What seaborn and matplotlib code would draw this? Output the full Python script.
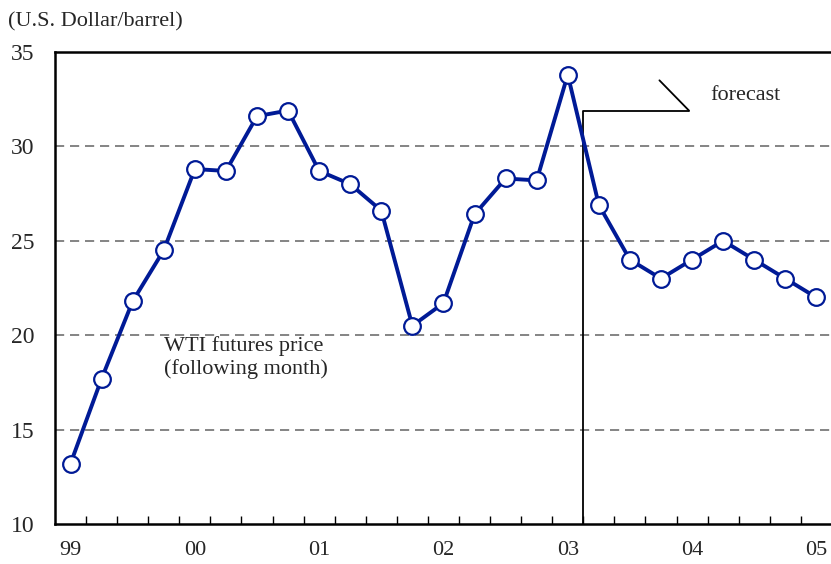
import numpy as np
import pandas as pd
import matplotlib
matplotlib.use("Agg")
import matplotlib.pyplot as plt
import seaborn as sns

sns.set_theme(style="white")
plt.rcParams["font.family"] = ["Liberation Serif", "DejaVu Serif"]

# quarterly WTI price, 99Q1 .. 05Q1
quarters = np.arange(25)
prices = [13.2, 17.7, 21.8, 24.5, 28.8, 28.7, 31.6, 31.9,
          28.7, 28.0, 26.6, 20.5, 21.7, 26.4, 28.3, 28.2,
          33.8, 26.9, 24.0, 23.0, 24.0, 25.0, 24.0, 23.0, 22.0]
year_labels = ["99", "00", "01", "02", "03", "04", "05"]
y_ticks = [10, 15, 20, 25, 30, 35]

df = pd.DataFrame({"q": quarters, "price": prices})

fig = plt.figure(figsize=(8.31, 5.64), dpi=100)
ax = fig.add_axes([55 / 831, 40 / 564, 780 / 831, 472 / 564])

navy = "#001a96"
sns.lineplot(data=df, x="q", y="price", ax=ax, color=navy, linewidth=2.8,
             marker="o", markersize=12, markerfacecolor="white",
             markeredgecolor=navy, markeredgewidth=1.6, zorder=3)

ax.set_xlim(-0.5, 24.6)
ax.set_ylim(10, 35)

# dashed gridlines
for yv in y_ticks[1:-1]:
    ax.axhline(yv, color="#707070", linestyle=(0, (5.5, 3.5)), linewidth=1.2, zorder=1)

ax.set_yticks(y_ticks)
ax.set_yticklabels([str(v) for v in y_ticks], fontsize=17)
ax.set_xticks(quarters[::4])
ax.set_xticklabels(year_labels, fontsize=16)
ax.set_xticks(np.arange(0.5, 24.5, 1), minor=True)
ax.tick_params(axis="x", which="major", length=0, pad=12)
ax.tick_params(axis="x", which="minor", direction="in", length=6, width=1, color="black", bottom=True)
ax.tick_params(axis="y", length=0, pad=15)
ax.set_xlabel("")
ax.set_ylabel("")

for side in ["left", "bottom", "top"]:
    ax.spines[side].set_color("black")
    ax.spines[side].set_linewidth(1.8)
ax.spines["right"].set_visible(False)

# forecast marker
ax.plot([16.5, 16.5, 19.9], [10, 31.9, 31.9], color="black", linewidth=1.3, zorder=2)
ax.plot([19.9, 18.95], [31.9, 33.5], color="black", linewidth=1.3, zorder=2)
ax.text(20.6, 32.7, "forecast", fontsize=16, ha="left", va="center")

ax.text(3.0, 18.8, "WTI futures price\n(following month)", fontsize=16,
        ha="left", va="center", linespacing=1.2)
fig.text(8 / 831, 1 - 22 / 564, "(U.S. Dollar/barrel)", fontsize=16, ha="left", va="center")

fig.savefig("out.png", dpi=100)
